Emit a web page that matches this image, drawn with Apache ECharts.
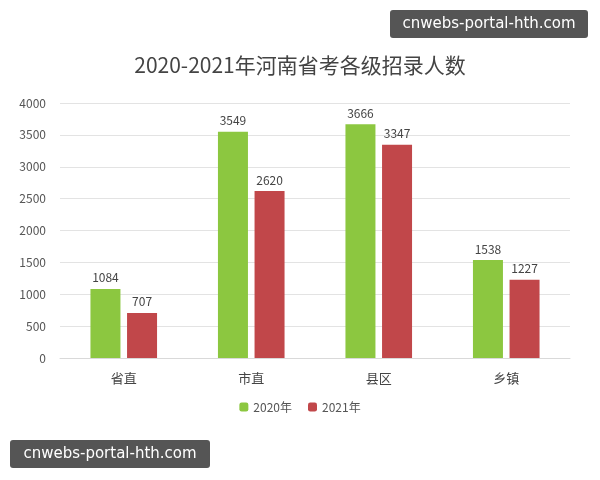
<!DOCTYPE html>
<html><head><meta charset="utf-8">
<script src="https://cdn.jsdelivr.net/npm/echarts@6/dist/echarts.min.js"></script>
<style>body{margin:0;background:#fff}#c{width:600px;height:480px}</style>
</head><body><div id="c"></div>
<script>
var categories = ['省直', '市直', '县区', '乡镇'];
var data2020 = [1084, 3549, 3666, 1538];
var data2021 = [707, 2620, 3347, 1227];
var yTicks = [0, 4000, 500];

var chart = echarts.init(document.getElementById('c'));
var font = '"Noto Sans CJK SC", sans-serif';
chart.setOption({
	title: {
		text: '2020-2021年河南省考各级招录人数',
		left: 'center', top: 50,
		textStyle: {fontFamily: font, fontSize: 21, fontWeight: 'normal', color: '#444'}
	},
	legend: {
		bottom: 62, itemWidth: 9, itemHeight: 9, itemGap: 16,
		textStyle: {fontFamily: font, fontSize: 12, color: '#555'},
		data: ['2020年', '2021年']
	},
	grid: {left: 60, right: 30, top: 103, bottom: 122},
	xAxis: {
		type: 'category', data: categories,
		axisTick: {show: false},
		axisLine: {lineStyle: {color: '#d9d9d9'}},
		axisLabel: {fontFamily: font, fontSize: 13, color: '#444', margin: 14}
	},
	yAxis: {
		type: 'value', min: yTicks[0], max: yTicks[1], interval: yTicks[2],
		axisLabel: {fontFamily: font, fontSize: 12, color: '#555', margin: 14,
			formatter: function(v){ return String(v); }},
		splitLine: {lineStyle: {color: '#e3e3e3'}}
	},
	series: [
		{name: '2020年', type: 'bar', data: data2020, barWidth: 30, barGap: '22%',
			itemStyle: {color: '#8cc740'},
			label: {show: true, position: 'top', fontFamily: font, fontSize: 12, color: '#444'}},
		{name: '2021年', type: 'bar', data: data2021, barWidth: 30,
			itemStyle: {color: '#c1474a'},
			label: {show: true, position: 'top', fontFamily: font, fontSize: 12, color: '#444'}}
	],
	graphic: [
		{type: 'rect', shape: {x: 390, y: 10, width: 198, height: 28, r: 3}, style: {fill: '#555'}},
		{type: 'text', x: 489, y: 24, style: {text: 'cnwebs-portal-hth.com', fill: '#fff', font: '15px "DejaVu Sans"', align: 'center', verticalAlign: 'middle'}},
		{type: 'rect', shape: {x: 10, y: 440, width: 200, height: 28, r: 3}, style: {fill: '#555'}},
		{type: 'text', x: 110, y: 454, style: {text: 'cnwebs-portal-hth.com', fill: '#fff', font: '15px "DejaVu Sans"', align: 'center', verticalAlign: 'middle'}}
	]
});
</script></body></html>
